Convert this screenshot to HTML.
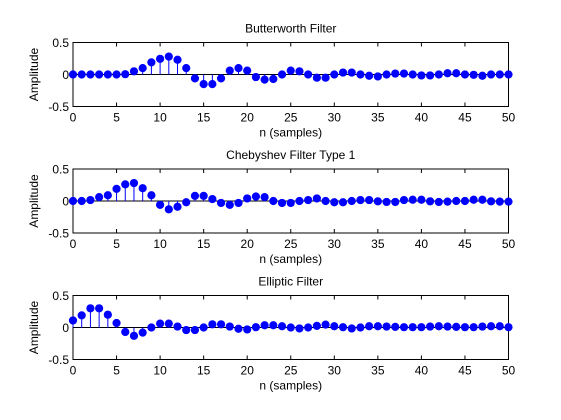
<!DOCTYPE html>
<html><head><meta charset="utf-8"><style>
html,body{margin:0;padding:0;background:#fff;}
svg{display:block;font-family:"Liberation Sans",Arial,sans-serif;}
</style></head><body>
<svg id="fig" width="561" height="420" viewBox="0 0 561 420"></svg>
<script>
const nValues = Array.from({length:51},(_, i)=>i);
const xTicks = [0,5,10,15,20,25,30,35,40,45,50];
const yTicks = [0.5,0,-0.5];
const yTickLabels = ["0.5","0","-0.5"];
const titles = ["Butterworth Filter","Chebyshev Filter Type 1","Elliptic Filter"];
const butterValues = [0,0,0,0,0,0,0.005,0.05,0.1,0.19,0.245,0.28,0.23,0.1,-0.06,-0.15,-0.15,-0.06,0.06,0.1,0.06,-0.04,-0.08,-0.07,0,0.06,0.05,0,-0.05,-0.05,0,0.03,0.03,0,-0.02,-0.03,0,0.015,0.015,0,-0.015,-0.015,0,0.02,0.02,0,-0.005,-0.02,0,0,0];
const chebyValues = [0,0,0.015,0.06,0.09,0.19,0.26,0.28,0.2,0.09,-0.06,-0.13,-0.09,-0.02,0.08,0.08,0.03,-0.03,-0.06,-0.03,0.04,0.07,0.06,0,-0.03,-0.03,0,0.015,0.04,0,-0.02,-0.02,0,0.015,0.015,-0.005,-0.015,-0.015,0.015,0.02,0.02,-0.005,-0.015,-0.01,0,0,0.02,0.02,-0.005,-0.01,-0.01];
const ellipValues = [0.11,0.19,0.3,0.3,0.2,0.07,-0.07,-0.13,-0.08,0,0.06,0.06,0.015,-0.04,-0.04,0,0.05,0.05,0.015,-0.02,-0.03,0.005,0.035,0.035,0.02,0,-0.015,0,0.025,0.045,0.02,0.005,-0.015,0,0.02,0.02,0.015,0.01,0.005,0.005,0.005,0.015,0.02,0.015,0.01,0.005,0.005,0.015,0.02,0.02,0.005];
const seriesList = [butterValues, chebyValues, ellipValues];

const NS="http://www.w3.org/2000/svg";
const svg=document.getElementById('fig');
function mk(tag,attrs,parent){const e=document.createElementNS(NS,tag);for(const k in attrs)e.setAttribute(k,attrs[k]);(parent||svg).appendChild(e);return e;}
const L=73,R=508.5,tops=[42.5,169,295.5],H=64;
const keys=['butterworth','chebyshev','elliptic'];
tops.forEach((top,k)=>{
  const xs=v=>L+(v/50)*(R-L);
  const ys=v=>top+(0.5-v)/1*H;
  const g=mk('g',{});
  
  
  const box=mk('rect',{x:L,y:top,width:R-L,height:H,fill:'#fff',stroke:'#000','stroke-width':1},g);
  
  
  xTicks.forEach(t=>{
    const x=xs(t);
    mk('line',{x1:x,x2:x,y1:top+H,y2:top+H-4,stroke:'#000'},g);
    mk('line',{x1:x,x2:x,y1:top,y2:top+4,stroke:'#000'},g);
    const tx=mk('text',{x:x,y:top+H+15,'font-size':12,'text-anchor':'middle'},g);
    tx.textContent=t;
    
    
  });
  yTicks.forEach((t,i)=>{
    const y=ys(t);
    mk('line',{x1:L,x2:L+4,y1:y,y2:y,stroke:'#000'},g);
    mk('line',{x1:R,x2:R-4,y1:y,y2:y,stroke:'#000'},g);
    const tx=mk('text',{x:69,y:y+4.5,'font-size':12,'text-anchor':'end'},g);
    tx.textContent=yTickLabels[i];
    
    
  });
  const base=mk('line',{x1:L,x2:R,y1:ys(0),y2:ys(0),stroke:'#000'},g);
  
  
  const vals=seriesList[k];
  nValues.forEach((n,i)=>{
    const x=xs(n),y=ys(vals[i]);
    const s=mk('line',{x1:x,x2:x,y1:ys(0),y2:y,stroke:'#0000ff','stroke-width':1},g);
    
    
    const c=mk('circle',{cx:x,cy:y,r:3.8,fill:'#0000ff',stroke:'#0000ff','stroke-width':0.6},g);
    
    
  });
  const ti=mk('text',{x:(L+R)/2,y:top-10,'font-size':12,'text-anchor':'middle'},g);
  ti.textContent=titles[k];
  
  
  const xl=mk('text',{x:(L+R)/2,y:top+H+30,'font-size':12,'text-anchor':'middle'},g);
  xl.textContent='n (samples)';
  
  
  const yl=mk('text',{x:0,y:0,'font-size':12,'text-anchor':'middle',transform:`translate(38,${top+H/2}) rotate(-90)`},g);
  yl.textContent='Amplitude';
  
  
});
</script>
</body></html>
